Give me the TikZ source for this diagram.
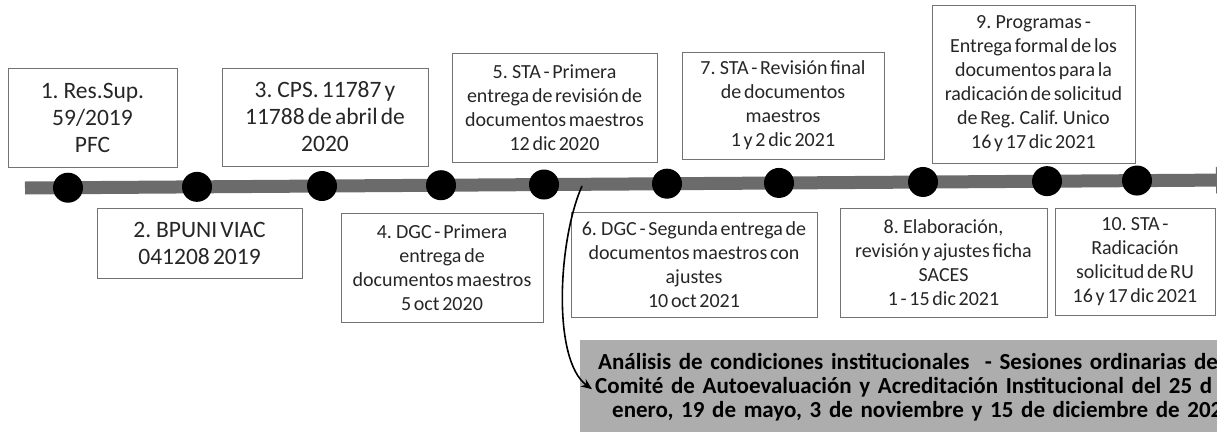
\documentclass[tikz,border=0pt]{standalone}
\usepackage{fontspec}
\setmainfont{Carlito}[WordSpace=0.6]
\usetikzlibrary{arrows.meta}
\definecolor{bargray}{gray}{0.42}
\definecolor{shadegray}{gray}{0.68}
\definecolor{boxline}{gray}{0.45}
\newcommand{\tightbold}{\bfseries\fontdimen2\font=3.4pt\fontdimen3\font=0pt}
\begin{document}
\begin{tikzpicture}[x=1pt,y=-1pt,
  evbox/.style={draw=boxline, line width=0.8pt, inner sep=0pt, align=center,
     font=\fontsize{20}{24}\selectfont, text=black!85},
  bigbox/.style={evbox, font=\fontsize{23.5}{27}\selectfont},
  evdot/.style={circle, fill=black, inner sep=0pt, minimum size=30pt},
  bar/.style={draw=bargray, line width=13pt},
  shade/.style={fill=shadegray, inner xsep=18pt, inner ysep=0pt, align=left,
     text width=760pt, minimum height=94pt, anchor=north west,
     font=\fontsize{23}{24}\selectfont\tightbold},
  link/.style={line width=1.6pt, -{Stealth[length=11pt,width=9pt]}}
]
\useasboundingbox (0,0) rectangle (1217,431);
\clip (0,0) rectangle (1217,431);

% timeline bar
\coordinate (barL) at (25,188);
\coordinate (barR) at (1232,180);
\draw[bar, -{Triangle[width=26pt,length=16pt]}] (barL) -- (barR);

% dots
\foreach \i/\x in {1/68,2/197,3/322,4/441,5/544,6/667,7/779,8/923,9/1047,10/1137}{
  \pgfmathsetmacro{\yy}{188-8*(\x-25)/1192}
  \node[evdot] (d\i) at (\x,\yy) {};
}

% upper boxes
\node[bigbox, minimum width=169pt, minimum height=99pt] (b1) at (92.5,117.5)
  {1. Res.Sup.\\59/2019\\PFC};
\node[bigbox, minimum width=206pt, minimum height=98pt] (b3) at (325,117)
  {3. CPS. 11787 y\\11788 de abril de\\2020};
\node[evbox, minimum width=205pt, minimum height=109pt] (b5) at (554.5,107.5)
  {5. STA - Primera\\entrega de revisión de\\documentos maestros\\12 dic 2020};
\node[evbox, minimum width=202pt, minimum height=107pt] (b7) at (783,105.5)
  {7. STA - Revisión final\\de documentos\\maestros\\1 y 2 dic 2021};
\node[evbox, minimum width=203pt, minimum height=158pt] (b9) at (1033.5,84)
  {9. Programas -\\Entrega formal de los\\documentos para la\\radicación de solicitud\\de Reg. Calif. Unico\\16 y 17 dic 2021};

% lower boxes
\node[bigbox, minimum width=205pt, minimum height=70pt] (b2) at (199.5,243)
  {2. BPUNI VIAC\\041208 2019};
\node[evbox, minimum width=202pt, minimum height=109pt] (b4) at (442,267.5)
  {4. DGC - Primera\\entrega de\\documentos maestros\\5 oct 2020};
\node[evbox, minimum width=246pt, minimum height=105pt] (b6) at (694,264.5)
  {6. DGC - Segunda entrega de\\documentos maestros con\\ajustes\\10 oct 2021};
\node[evbox, minimum width=207pt, minimum height=109pt] (b8) at (943.5,262.5)
  {8. Elaboración,\\revisión y ajustes ficha\\SACES\\1 - 15 dic 2021};
\node[evbox, minimum width=160pt, minimum height=107pt] (b10) at (1135,261.5)
  {10. STA -\\Radicación\\solicitud de RU\\16 y 17 dic 2021};

% shaded note
\node[shade] (note) at (580,340)
  {Análisis de condiciones institucionales \ - Sesiones ordinarias de\\
   \hspace*{-3pt}Comité de Autoevaluación y Acreditación Institucional del 25 d\\
   \hspace*{14pt}enero, 19 de mayo, 3 de noviembre y 15 de diciembre de 202};

% curved connector
\coordinate (arrowstart) at (582,186);
\draw[link] (arrowstart) .. controls (558,240) and (552,360) .. ([xshift=12pt,yshift=-2pt]note.west);
\end{tikzpicture}
\end{document}
